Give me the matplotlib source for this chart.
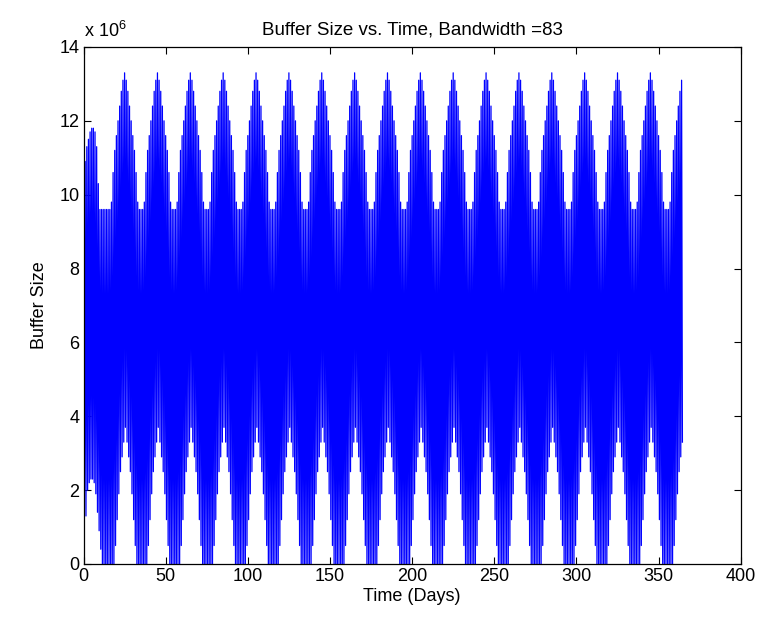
import numpy as np
import matplotlib
matplotlib.use("Agg")
import matplotlib.pyplot as plt
from matplotlib.ticker import FuncFormatter

plt.rcParams['font.family'] = ['Liberation Sans', 'DejaVu Sans']
plt.rcParams['mathtext.default'] = 'regular'

# ---- data (values in millions, one daily high and one daily low per day) ----
daily_high = [
    # days 0-24
    10.1, 10.9, 11.3, 11.5, 11.7, 11.8, 11.8, 11.7, 11.3, 10.3, 9.6,
    9.6, 9.6, 9.6, 9.6, 9.6, 9.6, 9.8, 10.6, 11.2, 11.6, 12.0, 12.4, 12.8, 13.1,
    # days 25-44
    13.3, 13.1, 12.8, 12.4, 12.0, 11.6, 11.2, 10.6, 9.8, 9.6, 9.6, 9.6, 9.8, 10.6, 11.2, 11.6, 12.0, 12.4, 12.8, 13.1,
    # days 45-64
    13.3, 13.1, 12.8, 12.4, 12.0, 11.6, 11.2, 10.6, 9.8, 9.6, 9.6, 9.6, 9.8, 10.6, 11.2, 11.6, 12.0, 12.4, 12.8, 13.1,
    # days 65-84
    13.3, 13.1, 12.8, 12.4, 12.0, 11.6, 11.2, 10.6, 9.8, 9.6, 9.6, 9.6, 9.8, 10.6, 11.2, 11.6, 12.0, 12.4, 12.8, 13.1,
    # days 85-104
    13.3, 13.1, 12.8, 12.4, 12.0, 11.6, 11.2, 10.6, 9.8, 9.6, 9.6, 9.6, 9.8, 10.6, 11.2, 11.6, 12.0, 12.4, 12.8, 13.1,
    # days 105-124
    13.3, 13.1, 12.8, 12.4, 12.0, 11.6, 11.2, 10.6, 9.8, 9.6, 9.6, 9.6, 9.8, 10.6, 11.2, 11.6, 12.0, 12.4, 12.8, 13.1,
    # days 125-144
    13.3, 13.1, 12.8, 12.4, 12.0, 11.6, 11.2, 10.6, 9.8, 9.6, 9.6, 9.6, 9.8, 10.6, 11.2, 11.6, 12.0, 12.4, 12.8, 13.1,
    # days 145-164
    13.3, 13.1, 12.8, 12.4, 12.0, 11.6, 11.2, 10.6, 9.8, 9.6, 9.6, 9.6, 9.8, 10.6, 11.2, 11.6, 12.0, 12.4, 12.8, 13.1,
    # days 165-184
    13.3, 13.1, 12.8, 12.4, 12.0, 11.6, 11.2, 10.6, 9.8, 9.6, 9.6, 9.6, 9.8, 10.6, 11.2, 11.6, 12.0, 12.4, 12.8, 13.1,
    # days 185-204
    13.3, 13.1, 12.8, 12.4, 12.0, 11.6, 11.2, 10.6, 9.8, 9.6, 9.6, 9.6, 9.8, 10.6, 11.2, 11.6, 12.0, 12.4, 12.8, 13.1,
    # days 205-224
    13.3, 13.1, 12.8, 12.4, 12.0, 11.6, 11.2, 10.6, 9.8, 9.6, 9.6, 9.6, 9.8, 10.6, 11.2, 11.6, 12.0, 12.4, 12.8, 13.1,
    # days 225-244
    13.3, 13.1, 12.8, 12.4, 12.0, 11.6, 11.2, 10.6, 9.8, 9.6, 9.6, 9.6, 9.8, 10.6, 11.2, 11.6, 12.0, 12.4, 12.8, 13.1,
    # days 245-264
    13.3, 13.1, 12.8, 12.4, 12.0, 11.6, 11.2, 10.6, 9.8, 9.6, 9.6, 9.6, 9.8, 10.6, 11.2, 11.6, 12.0, 12.4, 12.8, 13.1,
    # days 265-284
    13.3, 13.1, 12.8, 12.4, 12.0, 11.6, 11.2, 10.6, 9.8, 9.6, 9.6, 9.6, 9.8, 10.6, 11.2, 11.6, 12.0, 12.4, 12.8, 13.1,
    # days 285-304
    13.3, 13.1, 12.8, 12.4, 12.0, 11.6, 11.2, 10.6, 9.8, 9.6, 9.6, 9.6, 9.8, 10.6, 11.2, 11.6, 12.0, 12.4, 12.8, 13.1,
    # days 305-324
    13.3, 13.1, 12.8, 12.4, 12.0, 11.6, 11.2, 10.6, 9.8, 9.6, 9.6, 9.6, 9.8, 10.6, 11.2, 11.6, 12.0, 12.4, 12.8, 13.1,
    # days 325-344
    13.3, 13.1, 12.8, 12.4, 12.0, 11.6, 11.2, 10.6, 9.8, 9.6, 9.6, 9.6, 9.8, 10.6, 11.2, 11.6, 12.0, 12.4, 12.8, 13.1,
    # days 345-364
    13.3, 13.1, 12.8, 12.4, 12.0, 11.6, 11.2, 10.6, 9.8, 9.6, 9.6, 9.6, 9.8, 10.6, 11.2, 11.6, 12.0, 12.4, 12.8, 13.1,
]

daily_low = [
    # days 0-24
    0.9, 1.3, 2.0, 2.2, 2.3, 2.3, 2.2, 1.9, 1.4, 0.9, 0.4,
    0.0, 0.0, 0.0, 0.0, 0.0, 0.0, 0.0, 0.0, 0.5, 1.2, 1.9, 2.5, 2.9, 3.3,
    # days 25-44
    3.7, 3.3, 2.9, 2.5, 1.9, 1.2, 0.5, 0.0, 0.0, 0.0, 0.0, 0.0, 0.0, 0.0, 0.5, 1.2, 1.9, 2.5, 2.9, 3.3,
    # days 45-64
    3.7, 3.3, 2.9, 2.5, 1.9, 1.2, 0.5, 0.0, 0.0, 0.0, 0.0, 0.0, 0.0, 0.0, 0.5, 1.2, 1.9, 2.5, 2.9, 3.3,
    # days 65-84
    3.7, 3.3, 2.9, 2.5, 1.9, 1.2, 0.5, 0.0, 0.0, 0.0, 0.0, 0.0, 0.0, 0.0, 0.5, 1.2, 1.9, 2.5, 2.9, 3.3,
    # days 85-104
    3.7, 3.3, 2.9, 2.5, 1.9, 1.2, 0.5, 0.0, 0.0, 0.0, 0.0, 0.0, 0.0, 0.0, 0.5, 1.2, 1.9, 2.5, 2.9, 3.3,
    # days 105-124
    3.7, 3.3, 2.9, 2.5, 1.9, 1.2, 0.5, 0.0, 0.0, 0.0, 0.0, 0.0, 0.0, 0.0, 0.5, 1.2, 1.9, 2.5, 2.9, 3.3,
    # days 125-144
    3.7, 3.3, 2.9, 2.5, 1.9, 1.2, 0.5, 0.0, 0.0, 0.0, 0.0, 0.0, 0.0, 0.0, 0.5, 1.2, 1.9, 2.5, 2.9, 3.3,
    # days 145-164
    3.7, 3.3, 2.9, 2.5, 1.9, 1.2, 0.5, 0.0, 0.0, 0.0, 0.0, 0.0, 0.0, 0.0, 0.5, 1.2, 1.9, 2.5, 2.9, 3.3,
    # days 165-184
    3.7, 3.3, 2.9, 2.5, 1.9, 1.2, 0.5, 0.0, 0.0, 0.0, 0.0, 0.0, 0.0, 0.0, 0.5, 1.2, 1.9, 2.5, 2.9, 3.3,
    # days 185-204
    3.7, 3.3, 2.9, 2.5, 1.9, 1.2, 0.5, 0.0, 0.0, 0.0, 0.0, 0.0, 0.0, 0.0, 0.5, 1.2, 1.9, 2.5, 2.9, 3.3,
    # days 205-224
    3.7, 3.3, 2.9, 2.5, 1.9, 1.2, 0.5, 0.0, 0.0, 0.0, 0.0, 0.0, 0.0, 0.0, 0.5, 1.2, 1.9, 2.5, 2.9, 3.3,
    # days 225-244
    3.7, 3.3, 2.9, 2.5, 1.9, 1.2, 0.5, 0.0, 0.0, 0.0, 0.0, 0.0, 0.0, 0.0, 0.5, 1.2, 1.9, 2.5, 2.9, 3.3,
    # days 245-264
    3.7, 3.3, 2.9, 2.5, 1.9, 1.2, 0.5, 0.0, 0.0, 0.0, 0.0, 0.0, 0.0, 0.0, 0.5, 1.2, 1.9, 2.5, 2.9, 3.3,
    # days 265-284
    3.7, 3.3, 2.9, 2.5, 1.9, 1.2, 0.5, 0.0, 0.0, 0.0, 0.0, 0.0, 0.0, 0.0, 0.5, 1.2, 1.9, 2.5, 2.9, 3.3,
    # days 285-304
    3.7, 3.3, 2.9, 2.5, 1.9, 1.2, 0.5, 0.0, 0.0, 0.0, 0.0, 0.0, 0.0, 0.0, 0.5, 1.2, 1.9, 2.5, 2.9, 3.3,
    # days 305-324
    3.7, 3.3, 2.9, 2.5, 1.9, 1.2, 0.5, 0.0, 0.0, 0.0, 0.0, 0.0, 0.0, 0.0, 0.5, 1.2, 1.9, 2.5, 2.9, 3.3,
    # days 325-344
    3.7, 3.3, 2.9, 2.5, 1.9, 1.2, 0.5, 0.0, 0.0, 0.0, 0.0, 0.0, 0.0, 0.0, 0.5, 1.2, 1.9, 2.5, 2.9, 3.3,
    # days 345-364
    3.7, 3.3, 2.9, 2.5, 1.9, 1.2, 0.5, 0.0, 0.0, 0.0, 0.0, 0.0, 0.0, 0.0, 0.5, 1.2, 1.9, 2.5, 2.9, 3.3,
]

x_ticks = [0, 50, 100, 150, 200, 250, 300, 350, 400]
y_ticks = [0, 2, 4, 6, 8, 10, 12, 14]
title = "Buffer Size vs. Time, Bandwidth =83"
x_label = "Time (Days)"
y_label = "Buffer Size"
scale = 1e6

# ---- build the sampled series: high sample then low sample each day ----
hi = np.asarray(daily_high) * scale
lo = np.asarray(daily_low) * scale
n_days = len(hi)
t = np.arange(0, n_days, 0.5)           # half-day sampling times
y = np.empty(2 * n_days)
y[0::2] = hi
y[1::2] = lo

fig = plt.figure(figsize=(7.62, 6.18), dpi=100)
ax = fig.add_axes([0.1096, 0.0874, 0.8625, 0.8366])

ax.plot(t, y, color=(0, 0, 1), linewidth=0.9, antialiased=True)

ax.set_xlim(0, 400)
ax.set_ylim(0, 14 * scale)
ax.set_xticks(x_ticks)
ax.set_yticks([v * scale for v in y_ticks])
ax.yaxis.set_major_formatter(FuncFormatter(lambda v, p: f"{v / scale:g}"))
ax.tick_params(direction='in', top=True, right=True, length=5, width=0.8,
               labelsize=13, pad=3)
for s in ax.spines.values():
    s.set_linewidth(0.9)

ax.set_title(title, fontsize=13.5, pad=9)
ax.set_xlabel(x_label, fontsize=13, labelpad=2)
ax.set_ylabel(y_label, fontsize=13, labelpad=8)
ax.text(0.0, 1.012, "x 10$^{6}$", transform=ax.transAxes, fontsize=13,
        ha='left', va='bottom')

fig.savefig("out.png", dpi=100)
